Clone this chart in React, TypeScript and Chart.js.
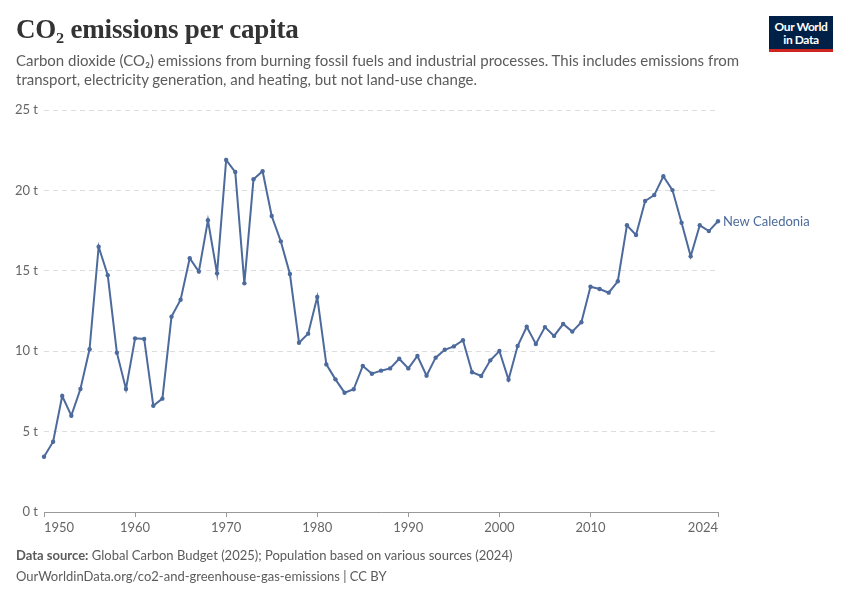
import { useEffect, useRef } from 'react'
import { Chart, registerables } from 'chart.js'

Chart.register(...registerables)

const years = Array.from({ length: 75 }, (_, i) => 1950 + i)

const emissions = [
  3.44, 4.37, 7.21, 5.99, 7.65, 10.12, 16.5, 14.72, 9.91, 7.65,
  10.8, 10.76, 6.61, 7.05, 12.15, 13.2, 15.78, 14.95, 18.14, 14.84,
  21.89, 21.14, 14.22, 20.69, 21.19, 18.41, 16.83, 14.8, 10.53, 11.09,
  13.37, 9.18, 8.25, 7.42, 7.63, 9.08, 8.6, 8.79, 8.93, 9.53,
  8.93, 9.7, 8.48, 9.6, 10.09, 10.3, 10.68, 8.69, 8.46, 9.43,
  10.01, 8.23, 10.32, 11.52, 10.45, 11.5, 10.95, 11.69, 11.22, 11.8,
  14.01, 13.87, 13.64, 14.35, 17.83, 17.23, 19.34, 19.71, 20.88, 20.02,
  17.99, 15.9, 17.83, 17.47, 18.08,
]

const xTicks = [1950, 1960, 1970, 1980, 1990, 2000, 2010, 2024]
const seriesName = 'New Caledonia'

const lineColor = '#4c6a9c'
const labelFont = 'Lato, "Noto Sans", sans-serif'

// series name written just right of the last point
const endLabel = {
  id: 'endLabel',
  afterDatasetsDraw(chart: Chart) {
    const meta = chart.getDatasetMeta(0)
    const last = meta.data[meta.data.length - 1]
    if (!last) return
    const ctx = chart.ctx
    ctx.save()
    ctx.font = `13px ${labelFont}`
    ctx.fillStyle = lineColor
    ctx.textBaseline = 'middle'
    ctx.fillText(seriesName, last.x + 5, last.y + 1)
    ctx.restore()
  },
}

export default function App() {
  const chartRef = useRef<HTMLCanvasElement>(null)
  const chartInstanceRef = useRef<Chart | null>(null)

  useEffect(() => {
    document.body.style.margin = '0'
    if (!chartRef.current) return
    const ctx = chartRef.current.getContext('2d')
    if (!ctx) return

    if (chartInstanceRef.current) {
      chartInstanceRef.current.destroy()
    }

    chartInstanceRef.current = new Chart(ctx, {
      type: 'line',
      data: {
        labels: years,
        datasets: [
          {
            label: seriesName,
            data: years.map((y, i) => ({ x: y, y: emissions[i] })),
            borderColor: lineColor,
            backgroundColor: lineColor,
            borderWidth: 2,
            pointRadius: 2.2,
            pointBorderWidth: 0,
            tension: 0,
            clip: false,
          },
        ],
      },
      options: {
        responsive: false,
        animation: false,
        layout: { padding: { top: 110, left: 0, right: 132, bottom: 0 } },
        plugins: {
          legend: { display: false },
          tooltip: { enabled: false },
        },
        scales: {
          x: {
            type: 'linear',
            min: 1950,
            max: 2024,
            afterBuildTicks: (scale: any) => {
              scale.ticks = xTicks.map((v) => ({ value: v }))
            },
            afterFit: (scale: any) => {
              scale.height = 88
            },
            grid: {
              drawOnChartArea: false,
              drawTicks: true,
              tickLength: 5,
              color: '#999',
            },
            border: { display: true, color: '#999', width: 1 },
            ticks: {
              align: 'inner',
              autoSkip: false,
              maxRotation: 0,
              padding: 3,
              color: '#666',
              font: { family: labelFont, size: 13 },
              callback: (v: any) => String(v),
            },
          },
          y: {
            min: 0,
            max: 25,
            afterFit: (scale: any) => {
              scale.width = 44
            },
            grid: {
              color: '#dddddd',
              drawTicks: false,
            },
            border: { display: false, dash: [5, 4] },
            ticks: {
              stepSize: 5,
              padding: 6,
              color: '#666',
              font: { family: labelFont, size: 13 },
              callback: (v: any) => `${v} t`,
            },
          },
        },
      },
      plugins: [endLabel],
    })

    return () => {
      chartInstanceRef.current?.destroy()
      chartInstanceRef.current = null
    }
  }, [])

  return (
    <div style={{ position: 'relative', width: 850, height: 600, background: '#fff', fontFamily: labelFont }}>
      <canvas ref={chartRef} width={850} height={600} style={{ position: 'absolute', left: 0, top: 0 }}></canvas>
      <div style={{ position: 'absolute', left: 16, top: 14, fontFamily: '"Liberation Serif", serif', fontSize: 27, fontWeight: 700, color: '#333', letterSpacing: -0.2 }}>
        CO₂ emissions per capita
      </div>
      <div style={{ position: 'absolute', left: 16, top: 51, width: 740, fontSize: 15, lineHeight: '19px', color: '#5b5b5b' }}>
        Carbon dioxide (CO₂) emissions from burning fossil fuels and industrial processes. This includes emissions from
        transport, electricity generation, and heating, but not land-use change.
      </div>
      <div style={{ position: 'absolute', left: 769, top: 16, width: 64, height: 36, background: '#002147', borderBottom: '3px solid #ce261e', boxSizing: 'border-box', color: '#fff', fontSize: 12, lineHeight: '13px', fontWeight: 700, textAlign: 'center', paddingTop: 4, letterSpacing: -0.4 }}>
        Our World
        <br />
        in Data
      </div>
      <div style={{ position: 'absolute', left: 16, top: 547, fontSize: 13, color: '#5b5b5b' }}>
        <b>Data source:</b> Global Carbon Budget (2025); Population based on various sources (2024)
      </div>
      <div style={{ position: 'absolute', left: 16, top: 568, fontSize: 13, color: '#5b5b5b' }}>
        OurWorldinData.org/co2-and-greenhouse-gas-emissions | CC BY
      </div>
    </div>
  )
}
